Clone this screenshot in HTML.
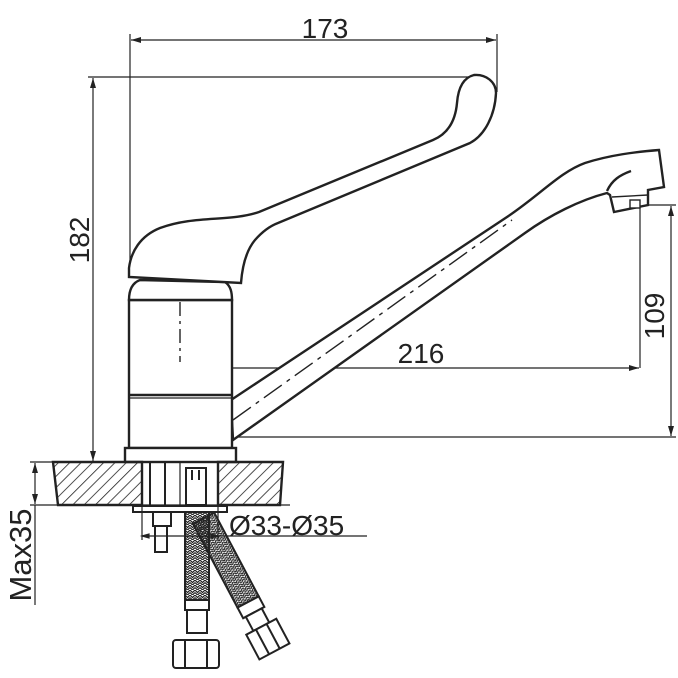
<!DOCTYPE html>
<html><head><style>html,body{margin:0;padding:0;background:#fff}svg{display:block}</style></head>
<body>
<svg width="678" height="678" viewBox="0 0 678 678" xmlns="http://www.w3.org/2000/svg">
<defs>
<pattern id="h" width="8" height="8" patternUnits="userSpaceOnUse" patternTransform="rotate(45)">
<line x1="0" y1="0" x2="0" y2="8" stroke="#222" stroke-width="1.6"/></pattern>
<pattern id="b" width="5" height="5" patternUnits="userSpaceOnUse">
<path d="M0 0L2.5 2.5L5 0M0 2.5L2.5 5L5 2.5" fill="none" stroke="#222" stroke-width="1.2"/></pattern>
<marker id="a" markerWidth="10" markerHeight="6" refX="10" refY="3" orient="auto-start-reverse" markerUnits="userSpaceOnUse">
<path d="M0 0L10 3L0 6z" fill="#222"/></marker>
</defs>
<g fill="none" stroke="#222" stroke-width="1.2">
<line x1="130" y1="34" x2="130" y2="262"/>
<line x1="497" y1="34" x2="497" y2="92"/>
<line x1="131" y1="40" x2="496" y2="40" marker-start="url(#a)" marker-end="url(#a)"/>
<line x1="88" y1="77" x2="474" y2="77"/>
<line x1="93" y1="78" x2="93" y2="461" marker-start="url(#a)" marker-end="url(#a)"/>
<line x1="640" y1="205" x2="676" y2="205"/>
<line x1="180" y1="437" x2="676" y2="437"/>
<line x1="671" y1="206" x2="671" y2="436" marker-start="url(#a)" marker-end="url(#a)"/>
<line x1="640" y1="205" x2="640" y2="368"/>
<line x1="181" y1="368" x2="639" y2="368" marker-start="url(#a)" marker-end="url(#a)"/>
<line x1="180" y1="362" x2="180" y2="505"/>
</g>
<g fill="#fff" stroke="#222" stroke-width="2.4">
<path d="M231 400 L507 217 C540 195 560 172 585 163 C610 155 635 152 659 150 L664 187 L648 190 L648 205 L614 212 L610 195 L607 193 C580 200 550 215 525 233 L233 440 Z"/>
<path d="M607 191 C612 180 620 175 631 171" fill="none"/>
<path d="M612 197 L648 195" fill="none" stroke-width="1.4"/>
<rect x="630" y="200" width="10" height="8" stroke-width="1.4"/>
<rect x="129" y="300" width="103" height="148"/>
<path d="M129 300 C129 290 132 283 140 280 L225 282 C231 286 232 293 232 300 Z"/>
<line x1="129" y1="395" x2="232" y2="395"/>
<line x1="129" y1="398" x2="232" y2="398" stroke-width="1.2"/>
<rect x="125" y="448" width="111" height="14"/>
<path d="M474 75 C462 78 458 90 457 103 C455 125 445 135 433 140 L259 212 C230 222 195 215 160 228 C140 236 131 252 129 268 L129 277 L241 283 C242 270 245 252 255 240 C262 232 270 226 278 223 L470 143 C485 135 495 115 496 93 C496 82 486 74 474 75 Z"/>
</g>
<line x1="180" y1="302" x2="180" y2="362" stroke="#222" stroke-width="1.4" stroke-dasharray="14 5 3 5"/>
<line x1="233" y1="420" x2="512" y2="220" stroke="#222" stroke-width="1.4" stroke-dasharray="22 6 4 6"/>
<path d="M53 462 L142 462 L142 505 L58 505 Z M218 462 L283 462 L280 505 L218 505 Z" fill="url(#h)" stroke="#222" stroke-width="2.4"/>
<line x1="30" y1="462" x2="125" y2="462" stroke="#222" stroke-width="1.2"/>
<line x1="30" y1="505" x2="290" y2="505" stroke="#222" stroke-width="1.2"/>
<line x1="35" y1="463" x2="35" y2="504" stroke="#222" stroke-width="1.2" marker-start="url(#a)" marker-end="url(#a)"/>
<line x1="35" y1="505" x2="35" y2="605" stroke="#222" stroke-width="1.2"/>
<g fill="#fff" stroke="#222" stroke-width="2">
<line x1="150" y1="462" x2="150" y2="505"/><line x1="165" y1="462" x2="165" y2="505"/>
<rect x="186" y="468" width="20" height="37"/>
<line x1="192" y1="470" x2="192" y2="480"/><line x1="199" y1="470" x2="199" y2="480"/>
<rect x="133" y="506" width="94" height="6"/>
<rect x="153" y="512" width="18" height="14"/>
<rect x="155" y="526" width="12" height="26"/>
<g transform="rotate(-28 200 520)">
<rect x="192" y="520" width="24" height="95" fill="url(#b)"/>
<rect x="192" y="615" width="24" height="12"/>
<rect x="195" y="627" width="18" height="16"/>
<rect x="187" y="643" width="34" height="28"/>
<line x1="198" y1="643" x2="198" y2="671"/><line x1="210" y1="643" x2="210" y2="671"/>
</g>
<rect x="185" y="512" width="24" height="88" fill="url(#b)"/>
<rect x="185" y="600" width="24" height="10"/>
<rect x="187" y="610" width="20" height="23"/>
<rect x="173" y="640" width="46" height="28" rx="3"/>
<line x1="185" y1="640" x2="185" y2="668"/><line x1="207" y1="640" x2="207" y2="668"/>
</g>
<g stroke="#222" stroke-width="1.2">
<line x1="142" y1="536" x2="367" y2="536"/>
<line x1="142" y1="505" x2="142" y2="540"/><line x1="218" y1="505" x2="218" y2="540"/>
<path d="M142 536l7-2v4z M218 536l-7-2v4z" fill="#222"/>
</g>
<g font-family="Liberation Sans, sans-serif" fill="#222" font-size="28">
<text x="325" y="38" text-anchor="middle">173</text>
<text x="421" y="363" text-anchor="middle">216</text>
<text x="229" y="535">Ø33-Ø35</text>
<text transform="translate(89 240) rotate(-90)" text-anchor="middle">182</text>
<text transform="translate(664 316) rotate(-90)" text-anchor="middle">109</text>
<text transform="translate(31 555) rotate(-90)" text-anchor="middle" font-size="31">Max35</text>
</g>
</svg>
</body></html>
